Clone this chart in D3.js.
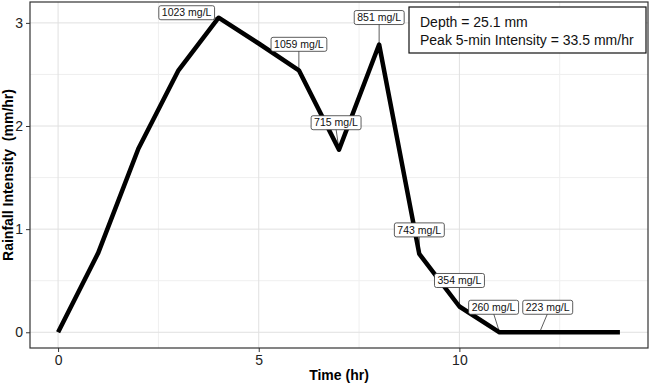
<!DOCTYPE html>
<meta charset="utf-8">
<script src="https://d3js.org/d3.v7.min.js"></script>
<style>
body { margin: 0; background: #fff; }
svg { font-family: "Liberation Sans", Arial, sans-serif; }
.grid line { stroke: #e0e0e0; }
.grid .minor { stroke: #efefef; }
.axis text { fill: #222; font-size: 14px; }
.axis line { stroke: #333; }
.lab rect { fill: #fff; stroke: #333; stroke-width: 0.8; }
.lab text { font-size: 10.5px; fill: #111; }
</style>
<body>
<div id="chart"></div>
<script>
// rainfall hyetograph
var hours = [0, 1, 2, 3, 4, 5, 6, 7, 8, 9, 10, 11, 12, 13, 14];
var intensity = [0, 0.77, 1.78, 2.54, 3.05, 2.8, 2.54, 1.77, 2.79, 0.76, 0.25, 0, 0, 0, 0];

// concentration labels
var labelHours = [4, 6, 7, 8, 9, 10, 11, 12];
var labelConc = [1023, 1059, 715, 851, 743, 354, 260, 223];
// label box offsets from the point (px)
var labelNudge = [[-32, -5], [0, -26], [-3, -27], [0, -27], [0, -24], [0, -26], [-6, -25], [8, -25]];

var xTicks = [0, 5, 10];
var yTicks = [0, 1, 2, 3];
var notes = ["Depth = 25.1 mm", "Peak 5-min Intensity = 33.5 mm/hr"];

var width = 651, height = 385;
var margin = {top: 2, right: 3, bottom: 37, left: 30};

var svg = d3.select("#chart").append("svg")
  .attr("width", width).attr("height", height);

var x = d3.scaleLinear().domain([-0.7, 14.7]).range([margin.left, width - margin.right]);
var y = d3.scaleLinear().domain([-0.1525, 3.2025]).range([height - margin.bottom, margin.top]);

// grid
var grid = svg.append("g").attr("class", "grid");
[2.5, 7.5, 12.5].forEach(function(v) {
  grid.append("line").attr("class", "minor")
    .attr("x1", x(v)).attr("x2", x(v)).attr("y1", y.range()[0]).attr("y2", y.range()[1]);
});
[0.5, 1.5, 2.5].forEach(function(v) {
  grid.append("line").attr("class", "minor")
    .attr("y1", y(v)).attr("y2", y(v)).attr("x1", x.range()[0]).attr("x2", x.range()[1]);
});
xTicks.forEach(function(v) {
  grid.append("line")
    .attr("x1", x(v)).attr("x2", x(v)).attr("y1", y.range()[0]).attr("y2", y.range()[1]);
});
yTicks.forEach(function(v) {
  grid.append("line")
    .attr("y1", y(v)).attr("y2", y(v)).attr("x1", x.range()[0]).attr("x2", x.range()[1]);
});

// axes
var gx = svg.append("g").attr("class", "axis")
  .attr("transform", "translate(0," + y.range()[0] + ")")
  .call(d3.axisBottom(x).tickValues(xTicks).tickFormat(d3.format("d")).tickSize(4).tickPadding(3));
gx.select(".domain").remove();
var gy = svg.append("g").attr("class", "axis")
  .attr("transform", "translate(" + x.range()[0] + ",0)")
  .call(d3.axisLeft(y).tickValues(yTicks).tickFormat(d3.format("d")).tickSize(4).tickPadding(3));
gy.select(".domain").remove();

// panel border
svg.append("rect")
  .attr("x", x.range()[0]).attr("y", y.range()[1])
  .attr("width", x.range()[1] - x.range()[0])
  .attr("height", y.range()[0] - y.range()[1])
  .attr("fill", "none").attr("stroke", "#333").attr("stroke-width", 1.2);

// line
var pts = hours.map(function(h, i) { return [h, intensity[i]]; });
var line = d3.line().x(function(d) { return x(d[0]); }).y(function(d) { return y(d[1]); });

// label segments (under line)
var labs = labelHours.map(function(h, i) {
  var px = x(h), py = y(intensity[hours.indexOf(h)]);
  return {px: px, py: py, cx: px + labelNudge[i][0], cy: py + labelNudge[i][1], t: labelConc[i] + " mg/L"};
});
svg.selectAll(".seg").data(labs).enter().append("line")
  .attr("x1", function(d) { return d.px; }).attr("y1", function(d) { return d.py; })
  .attr("x2", function(d) { return d.cx; }).attr("y2", function(d) { return d.cy + 6; })
  .attr("stroke", "#333").attr("stroke-width", 0.8);

svg.append("path").attr("d", line(pts))
  .attr("fill", "none").attr("stroke", "#000").attr("stroke-width", 4.5)
  .attr("stroke-linejoin", "round");

var lg = svg.selectAll(".lab").data(labs).enter().append("g").attr("class", "lab");
lg.append("text")
  .attr("x", function(d) { return d.cx; }).attr("y", function(d) { return d.cy; })
  .attr("text-anchor", "middle").attr("dy", "0.35em")
  .text(function(d) { return d.t; });
lg.each(function(d) {
  var g = d3.select(this), bb = g.select("text").node().getBBox();
  g.insert("rect", "text")
    .attr("x", bb.x - 3).attr("y", d.cy - 7)
    .attr("width", bb.width + 6).attr("height", 14).attr("rx", 2);
});

// annotation box
svg.append("rect").attr("x", 409).attr("y", 7).attr("width", 237).attr("height", 46)
  .attr("fill", "#fff").attr("stroke", "#111").attr("stroke-width", 1.2);
notes.forEach(function(t, i) {
  svg.append("text").attr("x", 420).attr("y", 27 + i * 18)
    .attr("font-size", "14px").attr("fill", "#111").text(t);
});

// titles
svg.append("text").attr("x", (x.range()[0] + x.range()[1]) / 2).attr("y", 380)
  .attr("text-anchor", "middle").attr("font-weight", "bold").attr("font-size", "14px")
  .text("Time (hr)");
svg.append("text")
  .attr("transform", "translate(13," + ((y.range()[0] + y.range()[1]) / 2) + ") rotate(-90)")
  .attr("text-anchor", "middle").attr("font-weight", "bold").attr("font-size", "14px")
  .attr("xml:space", "preserve")
  .text("Rainfall Intensity  (mm/hr)");
</script>
</body>
